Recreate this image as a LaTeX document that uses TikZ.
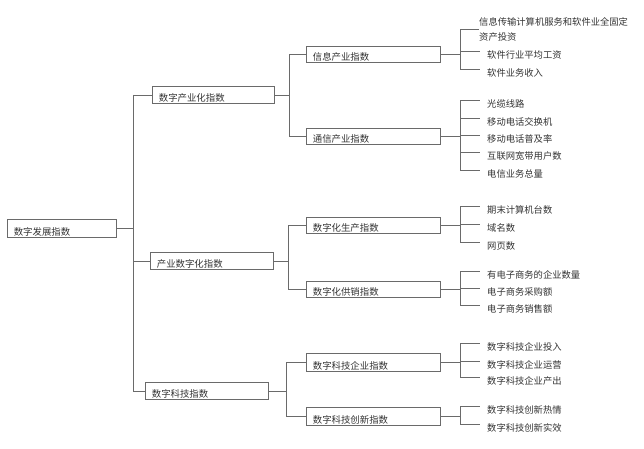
\documentclass[tikz,border=0pt]{standalone}
\usepackage{fontspec}
\setmainfont{Noto Sans CJK SC}
\definecolor{linegray}{HTML}{6A6A6A}
\definecolor{txtgray}{HTML}{333333}
\tikzset{
  box/.style={draw=linegray, line width=0.7pt, rectangle, anchor=north west, inner xsep=6.5pt, inner ysep=0pt,
    text depth=1.5pt, align=left, font=\fontsize{9.4pt}{11pt}\selectfont, text=txtgray},
  leaf/.style={anchor=north west, inner sep=0pt, text height=7.5pt, text depth=1pt,
    font=\fontsize{9.3pt}{11pt}\selectfont, text=txtgray},
  conn/.style={draw=linegray, line width=0.7pt},
  lconn/.style={conn, shorten >=7pt}
}
\begin{document}
\begin{tikzpicture}[x=1pt,y=-1pt]
\useasboundingbox[fill=white] (0,0) rectangle (644,448);
% root
\node[box, text width=96pt, text height=16.5pt] (root) at (7,219) {数字发展指数};
% level 1
\node[box, text width=109pt, text height=15.5pt] (l1a) at (152,86) {数字产业化指数};
\node[box, text width=110pt, text height=15.5pt] (l1b) at (150,252) {产业数字化指数};
\node[box, text width=110pt, text height=15.5pt] (l1c) at (145,382) {数字科技指数};
% level 2
\node[box, text width=121pt, text height=14.5pt] (l2a) at (306,46) {信息产业指数};
\node[box, text width=121pt, text height=14.5pt] (l2b) at (306,128) {通信产业指数};
\node[box, text width=121pt, text height=14.5pt] (l2c) at (306,217) {数字化生产指数};
\node[box, text width=121pt, text height=14.5pt] (l2d) at (306,281) {数字化供销指数};
\node[box, text width=121pt, text height=16.5pt] (l2e) at (306,353) {数字科技企业指数};
\node[box, text width=121pt, text height=16.5pt] (l2f) at (306,407) {数字科技创新指数};
% junctions
\coordinate (j0) at (133,0);
\coordinate (j1) at (289,0);
\coordinate (j2) at (288,0);
\coordinate (j3) at (286,0);
\coordinate (k) at (460,0);
% leaves
\node[anchor=base west, inner sep=0pt, align=left, font=\fontsize{9.3pt}{14.5pt}\selectfont, text=txtgray] (a1) at (479,40) {信息传输计算机服务和软件业全固定\\资产投资};
\node[leaf] (a2) at (487,51) {软件行业平均工资};
\node[leaf] (a3) at (487,69) {软件业务收入};
\node[leaf] (b1) at (487,100) {光缆线路};
\node[leaf] (b2) at (487,118) {移动电话交换机};
\node[leaf] (b3) at (487,135) {移动电话普及率};
\node[leaf] (b4) at (487,152) {互联网宽带用户数};
\node[leaf] (b5) at (487,170) {电信业务总量};
\node[leaf] (c1) at (487,206) {期末计算机台数};
\node[leaf] (c2) at (487,224) {域名数};
\node[leaf] (c3) at (487,242) {网页数};
\node[leaf] (d1) at (487,271) {有电子商务的企业数量};
\node[leaf] (d2) at (487,288) {电子商务采购额};
\node[leaf] (d3) at (487,305) {电子商务销售额};
\node[leaf] (e1) at (487,343) {数字科技企业投入};
\node[leaf] (e2) at (487,361) {数字科技企业运营};
\node[leaf] (e3) at (487,377) {数字科技企业产出};
\node[leaf] (f1) at (487,406) {数字科技创新热情};
\node[leaf] (f2) at (487,424) {数字科技创新实效};
% root connectors
\draw[conn] (root.east) -- (j0 |- root.east);
\draw[conn] (j0 |- l1a.west) -- (j0 |- l1c.west);
\draw[conn] (j0 |- l1a.west) -- (l1a.west);
\draw[conn] (j0 |- l1b.west) -- (l1b.west);
\draw[conn] (j0 |- l1c.west) -- (l1c.west);
% level1 -> level2
\draw[conn] (l1a.east) -- (j1 |- l1a.east);
\draw[conn] (j1 |- l2a.west) -- (j1 |- l2b.west);
\draw[conn] (j1 |- l2a.west) -- (l2a.west);
\draw[conn] (j1 |- l2b.west) -- (l2b.west);
\draw[conn] (l1b.east) -- (j2 |- l1b.east);
\draw[conn] (j2 |- l2c.west) -- (j2 |- l2d.west);
\draw[conn] (j2 |- l2c.west) -- (l2c.west);
\draw[conn] (j2 |- l2d.west) -- (l2d.west);
\draw[conn] (l1c.east) -- (j3 |- l1c.east);
\draw[conn] (j3 |- l2e.west) -- (j3 |- l2f.west);
\draw[conn] (j3 |- l2e.west) -- (l2e.west);
\draw[conn] (j3 |- l2f.west) -- (l2f.west);
% level2 -> leaves
\draw[conn] (l2a.east) -- (k |- l2a.east);
\draw[conn] (k |- a1.west) -- (k |- a3.north west);
\draw[conn] (k |- a1.west) -- (a1.west);
\draw[lconn] (k |- a2.north west) -- (a2.north west);
\draw[lconn] (k |- a3.north west) -- (a3.north west);
\draw[conn] (l2b.east) -- (k |- l2b.east);
\draw[conn] (k |- b1.north west) -- (k |- b5.north west);
\foreach \n in {b1,b2,b3,b4,b5} \draw[lconn] (k |- \n.north west) -- (\n.north west);
\draw[conn] (l2c.east) -- (k |- l2c.east);
\draw[conn] (k |- c1.north west) -- (k |- c3.north west);
\foreach \n in {c1,c2,c3} \draw[lconn] (k |- \n.north west) -- (\n.north west);
\draw[conn] (l2d.east) -- (k |- l2d.east);
\draw[conn] (k |- d1.north west) -- (k |- d3.north west);
\foreach \n in {d1,d2,d3} \draw[lconn] (k |- \n.north west) -- (\n.north west);
\draw[conn] (l2e.east) -- (k |- l2e.east);
\draw[conn] (k |- e1.north west) -- (k |- e3.north west);
\foreach \n in {e1,e2,e3} \draw[lconn] (k |- \n.north west) -- (\n.north west);
\draw[conn] (l2f.east) -- (k |- l2f.east);
\draw[conn] (k |- f1.north west) -- (k |- f2.north west);
\foreach \n in {f1,f2} \draw[lconn] (k |- \n.north west) -- (\n.north west);
\end{tikzpicture}
\end{document}
